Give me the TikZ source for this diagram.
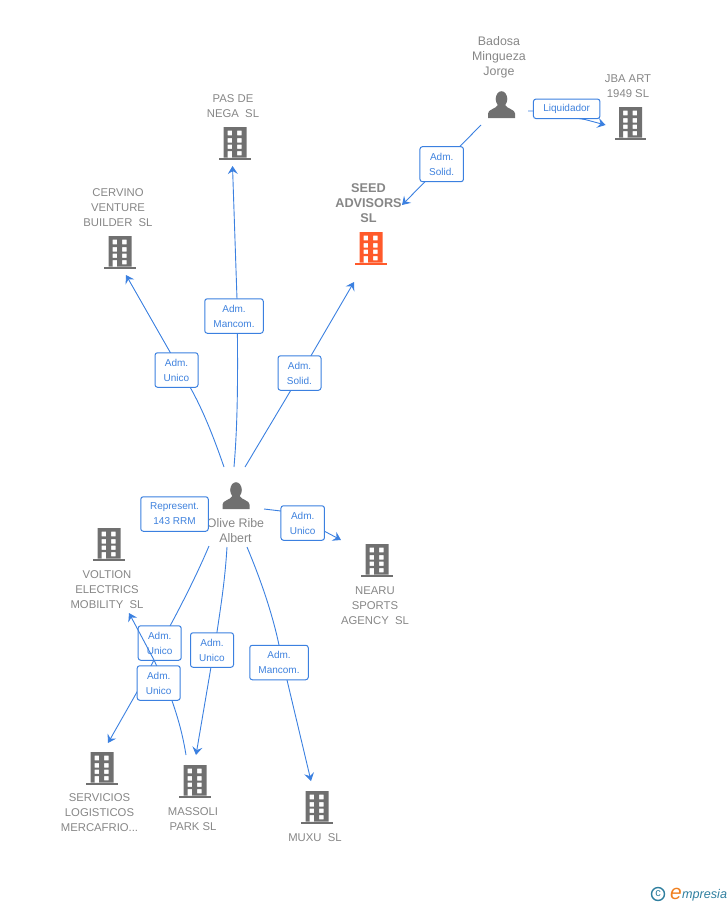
\documentclass[tikz,border=0pt]{standalone}
\usepackage{fontspec}
\setmainfont{Liberation Sans}
\usetikzlibrary{arrows.meta}
\definecolor{linkc}{HTML}{3B80E0}
\definecolor{labc}{HTML}{3F82DE}
\definecolor{txtc}{HTML}{868686}
\definecolor{iconc}{HTML}{707070}
\definecolor{hot}{HTML}{FF5A2B}
\definecolor{logob}{HTML}{2F7F9F}
\definecolor{logoo}{HTML}{F08020}
\tikzset{
  lab/.style={inner sep=0pt,align=center,text=txtc,font=\fontsize{11.3}{15}\selectfont},
  perslab/.style={lab,font=\fontsize{12.4}{15}\selectfont},
  hotlab/.style={lab,font=\fontsize{12.7}{15}\selectfont\bfseries},
  rel/.style={draw=linkc,line width=1pt,rounded corners=2.5pt,fill=white,text=labc,align=center,
     inner sep=0pt,font=\fontsize{10}{15}\selectfont},
  link/.style={draw=linkc,line width=0.9pt},
  tip/.style={link,-{Stealth[length=8pt,width=10pt,inset=3pt]}},
  pics/bld/.style={code={
    \fill[pic actions,even odd rule]
      (-11.5,0) rectangle (11.5,30.5)
      (-7.3,3.7) rectangle (-3,8.3) (2,3.7) rectangle (6.7,8.3)
      (-7.3,11) rectangle (-3,15.5) (2,11) rectangle (6.7,15.5)
      (-7.3,17.7) rectangle (-3,21.9) (2,17.7) rectangle (6.7,21.9)
      (-7.3,24) rectangle (-3,30.5) (2,24) rectangle (6.7,28.3);
    \fill[pic actions] (-15.7,30.5) rectangle (15.7,33.2);
  }},
  pics/pers/.style={code={
    \fill[pic actions] (0,8) ellipse (5.8pt and 7.8pt);
    \fill[pic actions] (-13.5,27) -- (-13.5,22.5) .. controls (-13.5,18.5) and (-6,18) .. (-3.5,14)
      -- (3.5,14) .. controls (6,18) and (13.5,18.5) .. (13.5,22.5) -- (13.5,27) -- cycle;
  }}
}
\begin{document}
\begin{tikzpicture}[x=1pt,y=-1pt]
\useasboundingbox (0,0) rectangle (728,905);

% end points of connectors
\coordinate (bs) at (481,125);
\coordinate (br) at (528,111);
\coordinate (seedT) at (402,205);
\coordinate (jbaT) at (605.5,125);
\coordinate (oN1) at (224,467);
\coordinate (oN2) at (234,467);
\coordinate (oN3) at (245,467);
\coordinate (oE) at (264,509);
\coordinate (oS1) at (209,546);
\coordinate (oS2) at (227,547);
\coordinate (oS3) at (247,547);
\coordinate (cervT) at (126,275);
\coordinate (pasT) at (232.5,166);
\coordinate (seedB) at (354,282);
\coordinate (nearT) at (341,540);
\coordinate (voltT) at (129,613);
\coordinate (servT) at (108,743);
\coordinate (massT) at (196,755);
\coordinate (massF) at (186,755);
\coordinate (muxT) at (311,781);

% icons
\pic[fill=iconc] (badosa) at (501.5,91) {pers};
\pic[fill=iconc] (olive) at (236,482) {pers};
\pic[fill=iconc] (jba) at (630.5,107) {bld};
\pic[fill=hot] (seed) at (371,232) {bld};
\pic[fill=iconc] (pas) at (235,127) {bld};
\pic[fill=iconc] (cerv) at (120,236) {bld};
\pic[fill=iconc] (volt) at (109,528) {bld};
\pic[fill=iconc] (near) at (377,544) {bld};
\pic[fill=iconc] (serv) at (102,752) {bld};
\pic[fill=iconc] (mass) at (195,765) {bld};
\pic[fill=iconc] (mux) at (317,791) {bld};

% texts
\node[perslab] (tbadosa) at (499,57.5) {Badosa\\Mingueza\\Jorge};
\node[lab] (tjba) at (628,86) {JBA ART\\1949 SL};
\node[hotlab] (tseed) at (368.5,203.5) {SEED\\ADVISORS\\SL};
\node[lab] (tpas) at (233,106) {PAS DE\\NEGA\ \ SL};
\node[lab] (tcerv) at (118,207.5) {CERVINO\\VENTURE\\BUILDER\ \ SL};
\node[perslab] (tolive) at (235.5,531) {Olive Ribe\\Albert};
\node[lab] (tvolt) at (107,589.5) {VOLTION\\ELECTRICS\\MOBILITY\ \ SL};
\node[lab] (tnear) at (375,605.5) {NEARU\\SPORTS\\AGENCY\ \ SL};
\node[lab] (tserv) at (99.5,812.5) {SERVICIOS\\LOGISTICOS\\MERCAFRIO...};
\node[lab] (tmass) at (193,819) {MASSOLI\\PARK SL};
\node[lab] (tmux) at (315,837.5) {MUXU\ \ SL};

% connectors
\draw[tip] (bs) -- (seedT);
\draw[tip] (br) -- (533,111) -- (585,119.5) -- (jbaT);
\draw[tip] (oN1) .. controls (214,438) and (203,410) .. (190,387) -- (cervT);
\draw[tip] (oN2) .. controls (238,420) and (238,370) .. (237,299) -- (pasT);
\draw[tip] (oN3) -- (291,390) -- (seedB);
\draw[tip] (oE) -- (281,511) -- (324,531) -- (nearT);
\draw[tip] (oS2) .. controls (225,580) and (221,605) .. (217,632) -- (211,667) -- (massT);
\draw[tip] (oS3) .. controls (260,578) and (272,612) .. (279,645) -- (287,680) -- (muxT);
\draw[tip] (oS1) .. controls (198,572) and (184,600) .. (170,626) -- (153,662) -- (137,692) -- (servT);

% relation boxes
\node[rel,minimum width=43.5pt,minimum height=35pt] (r1) at (441.7,164.2) {Adm.\\Solid.};
\node[rel,minimum width=66.5pt,minimum height=19.5pt] (r2) at (566.7,108.8) {Liquidador};
\node[rel,minimum width=58.5pt,minimum height=34.5pt] (r3) at (234,316) {Adm.\\Mancom.};
\node[rel,minimum width=43pt,minimum height=34.5pt] (r4) at (176.5,370) {Adm.\\Unico};
\node[rel,minimum width=43pt,minimum height=34.5pt] (r5) at (299.5,373) {Adm.\\Solid.};
\node[rel,minimum width=67.5pt,minimum height=34.5pt] (r6) at (174.5,514) {Represent.\\143 RRM};
\node[rel,minimum width=43.5pt,minimum height=34.5pt] (r7) at (302.7,523) {Adm.\\Unico};
\node[rel,minimum width=43pt,minimum height=34.5pt] (r8) at (159.7,643) {Adm.\\Unico};
\node[rel,minimum width=43pt,minimum height=34.5pt] (r9) at (212,650) {Adm.\\Unico};
\node[rel,minimum width=58.5pt,minimum height=34.5pt] (r10) at (279,662.5) {Adm.\\Mancom.};

% link crossing over box r8, lying under box r11
\draw[tip] (massF) .. controls (182,730) and (176,712) .. (170,695) -- (154,660) -- (voltT);
\node[rel,minimum width=43pt,minimum height=34.5pt] (r11) at (158.7,683) {Adm.\\Unico};

% logo
\node[circle,draw=logob,line width=1.4pt,inner sep=0pt,minimum size=13pt,text=logob,font=\fontsize{11}{11}\selectfont] (lc) at (658,894) {c};
\node[inner sep=0pt,anchor=base west,text=logoo,font=\fontsize{21}{21}\selectfont\itshape] (le) at (670,899) {e};
\node[inner sep=0pt,anchor=base west,text=logob,font=\fontsize{12.6}{12}\selectfont\itshape] (lm) at (682,898.5) {mpresia};
\end{tikzpicture}
\end{document}
